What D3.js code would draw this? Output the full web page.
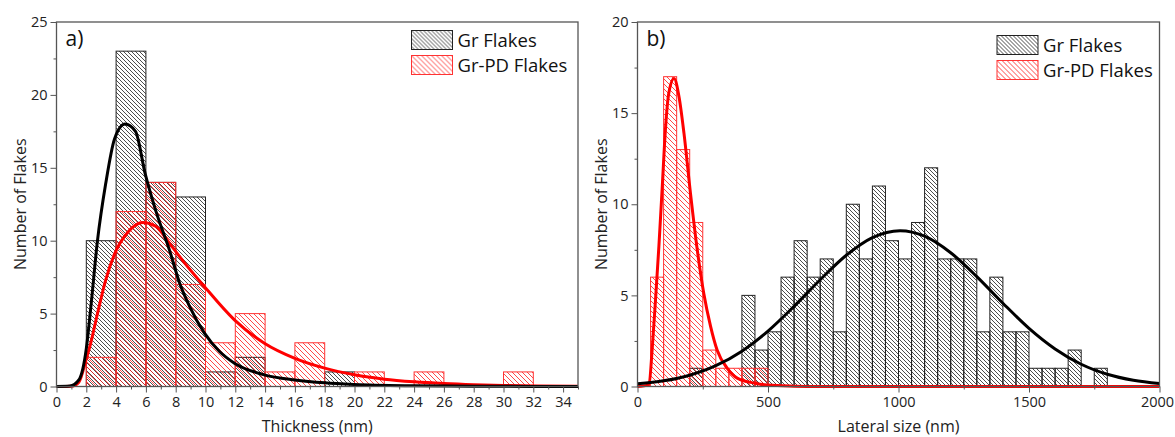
<!DOCTYPE html>
<html>
<head>
<meta charset="utf-8">
<script src="https://cdn.jsdelivr.net/npm/d3@7"></script>
<style>
    body { margin: 0; background: #fff; }
    svg { display: block; font-family: 'Open Sans', sans-serif; }
</style>
</head>
<body>
<div class="chart"></div>
<script>
// histogram bin starts
const thickBins = d3.range(0, 34, 2);
const lateralBins = d3.range(0, 2000, 50);

// counts, panel a (thickness, 2 nm bins)
const grThick = [0, 10, 23, 14, 13, 1, 2, 0, 0, 1, 0, 0, 0, 0, 0, 0, 0];
const pdThick = [0, 2, 12, 14, 7, 3, 5, 1, 3, 0, 1, 0, 1, 0, 0, 1, 0];

// counts, panel b (lateral size, 50 nm bins)
const grLateral = [0, 0, 0, 0, 1, 0, 0, 0, 5, 2, 3, 6, 8, 6, 7, 3, 10, 7, 11, 8,
    7, 9, 12, 7, 7, 7, 3, 6, 3, 3, 1, 1, 1, 2, 0, 1, 0, 0, 0, 0];
const pdLateral = [0, 6, 17, 13, 9, 2, 1, 1, 1, 1, 0, 0, 0, 0, 0, 0, 0, 0, 0, 0,
    0, 0, 0, 0, 0, 0, 0, 0, 0, 0, 0, 0, 0, 0, 0, 0, 0, 0, 0, 0];

// fitted curves as [x, y]
const grThickFit = [[0, 0], [0.9, 0.03], [1.5, 0.45], [2, 2.6], [2.3, 5.4], [2.75, 10], [3.3, 13.9],
    [3.9, 17], [4.6, 18], [5.3, 17.5], [5.95, 14.6], [6.65, 12.1], [7.6, 9.3], [8.26, 7.1],
    [8.93, 5.5], [9.93, 3.66], [10.94, 2.4], [11.94, 1.6], [13.95, 0.8], [16, 0.45], [18, 0.25],
    [20, 0.14], [24, 0.05], [28, 0.02], [35, 0]];
const pdThickFit = [[0, 0], [1, 0.02], [1.5, 0.3], [2, 1.9], [2.3, 3], [2.75, 5], [3.3, 7.3],
    [3.9, 9.1], [4.8, 10.6], [5.8, 11.25], [6.65, 11], [7.6, 9.8], [8.5, 8.6], [9.93, 6.85],
    [11.94, 4.57], [13.95, 2.97], [15.96, 1.95], [18, 1.26], [20, 0.8], [22, 0.5], [24, 0.32],
    [26, 0.2], [28, 0.12], [30, 0.07], [35, 0.02]];
const grLateralFit = [[0, 0.15], [100, 0.31], [200, 0.62], [300, 1.14], [400, 1.94], [500, 3.04],
    [600, 4.4], [700, 5.86], [800, 7.2], [900, 8.17], [1006, 8.55], [1100, 8.25], [1200, 7.34],
    [1300, 6.03], [1400, 4.57], [1500, 3.19], [1600, 2.06], [1700, 1.22], [1800, 0.67],
    [1900, 0.34], [2000, 0.16]];
const pdLateralFit = [[0, 0], [44, 0.09], [56, 2], [69, 4.75], [82, 7.7], [95, 11], [107, 14.1],
    [120, 16.1], [140, 16.9], [159, 15.9], [178, 13.9], [203, 10.6], [229, 7.5], [254, 5.1],
    [280, 3.3], [305, 2], [344, 1], [382, 0.46], [446, 0.19], [500, 0.08], [600, 0.02],
    [700, 0], [2000, 0]];

const legendNames = ['Gr Flakes', 'Gr-PD Flakes'];

const _width = 1175, _height = 437;
let svg = d3.select('.chart')
    .append('svg')
    .attr('width', _width)
    .attr('height', _height);

// hatch patterns
let defs = svg.append('defs');
function hatch(id, size, color, sw) {
    defs.append('pattern')
        .attr('id', id)
        .attr('patternUnits', 'userSpaceOnUse')
        .attr('width', size)
        .attr('height', size)
        .append('path')
        .attr('d', `M0,0L${size},${size}M${-size / 4},${size * 3 / 4}L${size / 4},${size * 5 / 4}M${size * 3 / 4},${-size / 4}L${size * 5 / 4},${size / 4}`)
        .attr('stroke', color)
        .attr('stroke-width', sw);
}
hatch('hatch-gr', 4, '#111', 0.75);
hatch('hatch-pd', 5, '#ff1a1a', 0.8);

function drawPanel(p) {
    let x = d3.scaleLinear().domain(p.xDomain).range([p.left, p.right]);
    let y = d3.scaleLinear().domain(p.yDomain).range([p.bottom, p.top]);
    let g = svg.append('g');

    let bars = (counts, fill, stroke) => g.append('g')
        .selectAll('rect')
        .data(p.bins.map((b, i) => ({x0: b, x1: b + p.binWidth, n: counts[i]})).filter(d => d.n > 0))
        .enter().append('rect')
        .attr('x', d => x(d.x0))
        .attr('y', d => y(d.n))
        .attr('width', d => x(d.x1) - x(d.x0))
        .attr('height', d => y(0) - y(d.n))
        .attr('fill', fill)
        .attr('stroke', stroke)
        .attr('stroke-width', 1);
    bars(p.gr, 'url(#hatch-gr)', '#222');
    bars(p.pd, 'url(#hatch-pd)', '#ff3333');

    let line = d3.line()
        .x(d => x(d[0]))
        .y(d => y(d[1]))
        .curve(d3.curveMonotoneX);
    g.append('path').datum(p.pdFit)
        .attr('d', line)
        .attr('fill', 'none')
        .attr('stroke', '#ff0000')
        .attr('stroke-width', 3);
    g.append('path').datum(p.grFit)
        .attr('d', line)
        .attr('fill', 'none')
        .attr('stroke', '#000')
        .attr('stroke-width', 3);

    // axes: minor then major ticks
    let axisStyle = sel => {
        sel.select('.domain').remove();
        sel.selectAll('line').attr('stroke', '#555');
        sel.selectAll('text').attr('fill', '#222').style('font-size', '14.5px')
            .style('font-family', "'Open Sans', sans-serif");
    };
    g.append('g').attr('transform', `translate(0,${p.bottom})`)
        .call(d3.axisBottom(x).tickValues(p.xMinor).tickSize(3).tickFormat(''))
        .call(axisStyle);
    g.append('g').attr('transform', `translate(0,${p.bottom})`)
        .call(d3.axisBottom(x).tickValues(p.xMajor).tickSize(6).tickPadding(4).tickFormat(d3.format('d')))
        .call(axisStyle)
        .call(sel => sel.selectAll('text').filter(d => d === p.xDomain[1]).attr('dx', p.lastDx || 0));
    g.append('g').attr('transform', `translate(${p.left},0)`)
        .call(d3.axisLeft(y).tickValues(p.yMinor).tickSize(3).tickFormat(''))
        .call(axisStyle);
    g.append('g').attr('transform', `translate(${p.left},0)`)
        .call(d3.axisLeft(y).tickValues(p.yMajor).tickSize(6).tickPadding(3).tickFormat(d3.format('d')))
        .call(axisStyle);

    // frame
    g.append('rect')
        .attr('x', p.left).attr('y', p.top)
        .attr('width', p.right - p.left).attr('height', p.bottom - p.top)
        .attr('fill', 'none')
        .attr('stroke', '#555')
        .attr('stroke-width', 1.3);

    // titles
    g.append('text')
        .attr('x', (p.left + p.right) / 2).attr('y', 432)
        .attr('text-anchor', 'middle')
        .style('font-size', '16px').attr('fill', '#222')
        .text(p.xTitle);
    g.append('text')
        .attr('transform', `translate(${p.left - 31},${(p.top + p.bottom) / 2}) rotate(-90)`)
        .attr('text-anchor', 'middle')
        .style('font-size', '16px').attr('fill', '#222')
        .text('Number of Flakes');
    g.append('text')
        .attr('x', p.left + 9).attr('y', p.top + 24)
        .style('font-size', '21px').attr('fill', '#111')
        .text(p.tag);

    // legend
    let leg = g.append('g').attr('transform', `translate(${p.legX},${p.legY})`);
    legendNames.forEach((name, i) => {
        leg.append('rect')
            .attr('x', 0).attr('y', i * 25)
            .attr('width', 41).attr('height', 19)
            .attr('fill', i === 0 ? 'url(#hatch-gr)' : 'url(#hatch-pd)')
            .attr('stroke', i === 0 ? '#222' : '#ff3333')
            .attr('stroke-width', 1);
        leg.append('text')
            .attr('x', 46).attr('y', i * 25 + 16)
            .style('font-size', '18.5px').attr('fill', '#111')
            .text(name);
    });
}

drawPanel({
    left: 56.5, right: 578, top: 22, bottom: 386.5,
    xDomain: [0, 35], yDomain: [0, 25],
    bins: thickBins, binWidth: 2,
    gr: grThick, pd: pdThick, grFit: grThickFit, pdFit: pdThickFit,
    xMajor: d3.range(0, 35, 2), xMinor: d3.range(1, 36, 2),
    yMajor: [0, 5, 10, 15, 20, 25], yMinor: [2.5, 7.5, 12.5, 17.5, 22.5],
    xTitle: 'Thickness (nm)', tag: 'a)',
    legX: 411.5, legY: 30.5
});
drawPanel({
    left: 637.5, right: 1159.5, top: 22, bottom: 386.5,
    xDomain: [0, 2000], yDomain: [0, 20],
    bins: lateralBins, binWidth: 50,
    gr: grLateral, pd: pdLateral, grFit: grLateralFit, pdFit: pdLateralFit,
    xMajor: [0, 500, 1000, 1500, 2000], xMinor: [250, 750, 1250, 1750],
    yMajor: [0, 5, 10, 15, 20], yMinor: [2.5, 7.5, 12.5, 17.5],
    xTitle: 'Lateral size (nm)', tag: 'b)',
    legX: 997, legY: 35.5, lastDx: -2.5
});
</script>
</body>
</html>
